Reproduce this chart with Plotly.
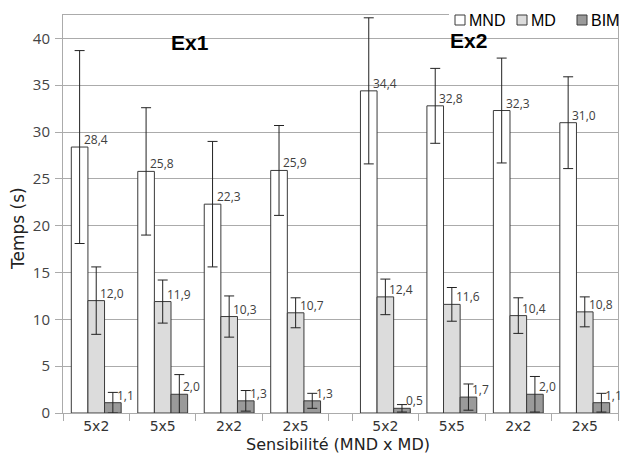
import numpy as np
import plotly.graph_objects as go

# ---- data ----
categories = ["5x2", "5x5", "2x2", "2x5"]
groups = ["Ex1", "Ex2"]
series_names = ["MND", "MD", "BIM"]

mnd_ex1 = [28.4, 25.8, 22.3, 25.9]
mnd_ex2 = [34.4, 32.8, 32.3, 31.0]
md_ex1 = [12.0, 11.9, 10.3, 10.7]
md_ex2 = [12.4, 11.6, 10.4, 10.8]
bim_ex1 = [1.1, 2.0, 1.3, 1.3]
bim_ex2 = [0.5, 1.7, 2.0, 1.1]

mnd_err_ex1 = [10.3, 6.8, 6.7, 4.8]
mnd_err_ex2 = [7.8, 4.0, 5.6, 4.9]
md_err_ex1 = [3.6, 2.3, 2.2, 1.6]
md_err_ex2 = [1.9, 1.8, 1.9, 1.6]
bim_err_ex1 = [1.1, 2.1, 1.1, 0.8]
bim_err_ex2 = [0.4, 1.4, 1.9, 1.0]

y_ticks = [0, 5, 10, 15, 20, 25, 30, 35, 40]

# ---- layout helpers ----
W, H = 625, 453
ML, MR, MT, MB = 63, 7, 15, 40
PW, PH = W - ML - MR, H - MT - MB


def px_x(px):
    return (px - ML) / PW


def px_y(py):
    return (H - MB - py) / PH


GAP = 0.35  # extra space between Ex1 and Ex2 groups (in category units)
n = len(categories)
pos = list(np.arange(n)) + list(np.arange(n) + n + GAP)
labels = categories + categories
bounds = list(np.arange(n + 1) - 0.5) + list(np.arange(n + 1) - 0.5 + n + GAP)

values = {
    "MND": mnd_ex1 + mnd_ex2,
    "MD": md_ex1 + md_ex2,
    "BIM": bim_ex1 + bim_ex2,
}
errors = {
    "MND": mnd_err_ex1 + mnd_err_ex2,
    "MD": md_err_ex1 + md_err_ex2,
    "BIM": bim_err_ex1 + bim_err_ex2,
}
colors = {"MND": "#ffffff", "MD": "#dcdcdc", "BIM": "#9a9a9a"}
OUTLINE = "#3a3a3a"

BAR_W = 0.25
fig = go.Figure()
annotations = []
shapes = []
for i, name in enumerate(series_names):
    fig.add_trace(go.Bar(
        x=pos, y=values[name], name=name,
        marker=dict(color=colors[name], line=dict(color=OUTLINE, width=1)),
        error_y=dict(type="data", array=errors[name], visible=True,
                     color="#222222", thickness=1, width=5),
        width=BAR_W,
        offset=(i - 1.5) * BAR_W,
        showlegend=False,
    ))
    for p, v in zip(pos, values[name]):
        annotations.append(dict(
            x=p + (i - 1) * BAR_W, y=v, xref="x", yref="y",
            text=f"{v:.1f}".replace(".", ","), showarrow=False,
            xanchor="left", yanchor="bottom", xshift=2, yshift=-3,
            font=dict(family="Open Sans", size=12, color="#404040"),
        ))

# group titles
for g, cx, cy in [("Ex1", 190, 42.5), ("Ex2", 468, 41)]:
    annotations.append(dict(x=px_x(cx), y=px_y(cy), xref="paper", yref="paper",
                            text=f"<b>{g}</b>", showarrow=False, xanchor="center", yanchor="middle",
                            font=dict(family="Liberation Sans, Arial", size=21, color="#000000")))
# axis titles
annotations.append(dict(x=px_x(18), y=px_y(229), xref="paper", yref="paper",
                        text="Temps (s)", showarrow=False, textangle=-90,
                        xanchor="center", yanchor="middle",
                        font=dict(family="DejaVu Sans", size=17, color="#222222")))
annotations.append(dict(x=px_x(338), y=px_y(444), xref="paper", yref="paper",
                        text="Sensibilité (MND x MD)", showarrow=False,
                        xanchor="center", yanchor="middle",
                        font=dict(family="DejaVu Sans", size=16, color="#222222")))

# legend (drawn manually to match the compact original layout)
shapes.append(dict(type="rect", xref="paper", yref="paper", layer="above",
                   x0=px_x(449), x1=px_x(617), y0=px_y(29), y1=px_y(0),
                   fillcolor="white", line=dict(width=0)))
legend_pos = [(455, "MND"), (517, "MD"), (577, "BIM")]
for (lx, name) in legend_pos:
    shapes.append(dict(type="rect", xref="paper", yref="paper", layer="above",
                       x0=px_x(lx), x1=px_x(lx + 10), y0=px_y(25), y1=px_y(15),
                       fillcolor=colors[name], line=dict(color=OUTLINE, width=1)))
    annotations.append(dict(x=px_x(lx + 12), y=px_y(20), xref="paper", yref="paper",
                            text=name, showarrow=False, xanchor="left", yanchor="middle",
                            font=dict(family="Liberation Sans Narrow, Liberation Sans, Arial",
                                      size=16, color="#000000")))

GRID = "#ababab"
fig.update_layout(
    width=W, height=H,
    margin=dict(l=ML, r=MR, t=MT, b=MB, autoexpand=False),
    paper_bgcolor="white", plot_bgcolor="white",
    barmode="overlay",
    showlegend=False,
    annotations=annotations,
    shapes=shapes,
    xaxis=dict(
        range=[bounds[0], bounds[-1]],
        tickmode="array", tickvals=pos, ticktext=labels, ticks="",
        showgrid=False, zeroline=False,
        showline=True, mirror=True, linecolor=GRID, linewidth=1,
        tickfont=dict(family="DejaVu Sans", size=14, color="#333333"),
        ticklabelstandoff=0,
        minor=dict(tickmode="array", tickvals=bounds, ticks="outside", ticklen=7,
                   tickcolor=GRID, showgrid=False),
    ),
    yaxis=dict(
        range=[0, 42.5],
        tickmode="array", tickvals=y_ticks,
        ticks="outside", ticklen=7, tickcolor=GRID,
        showgrid=True, gridcolor=GRID, gridwidth=1, zeroline=False,
        showline=True, mirror=True, linecolor=GRID, linewidth=1,
        tickfont=dict(family="Open Sans", size=15, color="#444444"),
        ticklabelstandoff=2,
    ),
)

fig.write_html("out.html", config={"displayModeBar": False},
               post_script="document.body.style.margin='0';")
